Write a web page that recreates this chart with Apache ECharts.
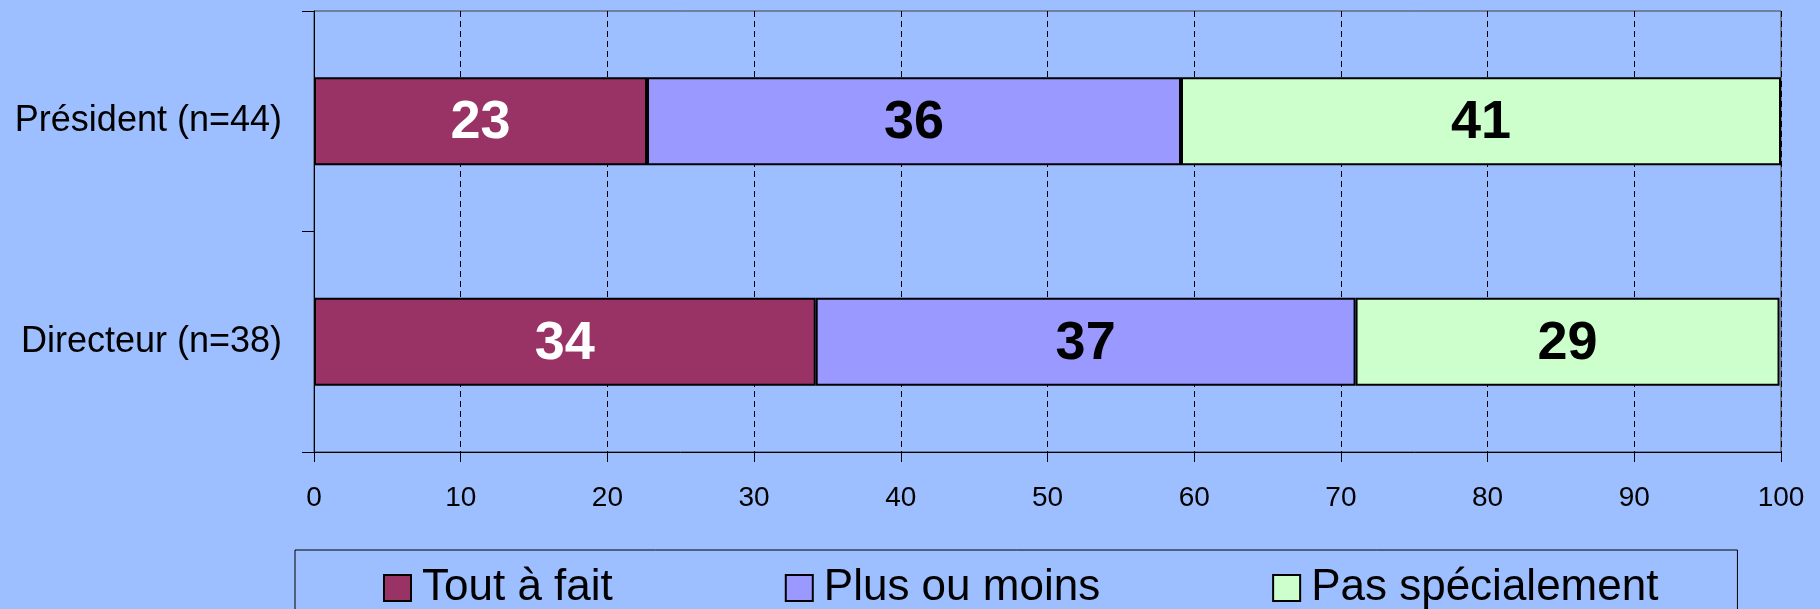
<!DOCTYPE html>
<html>
<head>
    <meta charset="utf-8" />
    <title>Président / Directeur</title>
    <script src="https://cdn.jsdelivr.net/npm/echarts@6/dist/echarts.min.js"></script>
    <style>
        html, body { margin: 0; padding: 0; background: #9DBEFF; }
    </style>
</head>
<body>
<div id="main" style="width:1820px;height:609px;"></div>

<script type="text/javascript">
    // categories (top to bottom) and the three answer shares in %
    var categories = ['Président (n=44)', 'Directeur (n=38)'];
    var seriesNames = ['Tout à fait', 'Plus ou moins', 'Pas spécialement'];
    var toutAFait = [22.7, 34.2];
    var plusOuMoins = [36.4, 36.8];
    var pasSpecialement = [40.9, 28.9];
    var xTicks = [0, 10, 20, 30, 40, 50, 60, 70, 80, 90, 100];

    var colors = ['#993366', '#9999FF', '#CCFFCC'];
    var labelColors = ['#ffffff', '#000000', '#000000'];
    var font = 'Liberation Sans, Arial, sans-serif';

    var myChart = echarts.init(document.getElementById('main'));

    function makeSeries(idx, data) {
        return {
            name: seriesNames[idx],
            type: 'bar',
            stack: 'total',
            barWidth: 88,
            data: data,
            itemStyle: {
                color: colors[idx],
                borderColor: '#000',
                borderWidth: 2
            },
            label: {
                show: true,
                position: 'inside',
                offset: [0, 2],
                color: labelColors[idx],
                fontFamily: font,
                fontWeight: 'bold',
                fontSize: 54,
                formatter: function (p) {
                    return Math.round(p.value);
                }
            },
            emphasis: { disabled: true }
        };
    }

    var option = {
        backgroundColor: '#9DBEFF',
        animation: false,
        textStyle: { fontFamily: font },
        grid: {
            left: 314,
            right: 39,
            top: 11,
            bottom: 157,
            show: true,
            borderColor: '#404040',
            borderWidth: 1
        },
        legend: {
            data: seriesNames,
            left: 295,
            top: 550,
            padding: [16, 79, 40, 88],
            borderColor: '#000',
            borderWidth: 1,
            itemGap: 172,
            itemWidth: 27,
            itemHeight: 26,
            icon: 'rect',
            itemStyle: { borderColor: '#000', borderWidth: 2 },
            textStyle: {
                fontSize: 44,
                color: '#000',
                fontFamily: font,
                padding: [0, 0, 0, 6]
            },
            selectedMode: false
        },
        xAxis: {
            type: 'value',
            min: xTicks[0],
            max: xTicks[xTicks.length - 1],
            interval: 10,
            axisLine: { show: true, lineStyle: { color: '#000', width: 1 } },
            axisTick: { show: true, length: 10, lineStyle: { color: '#000' } },
            axisLabel: { fontSize: 28, color: '#000', margin: 32, fontFamily: font },
            splitLine: {
                show: true,
                lineStyle: { color: '#000', width: 1, type: [6, 4] }
            }
        },
        yAxis: {
            type: 'category',
            data: categories,
            inverse: true,
            axisLine: { show: true, lineStyle: { color: '#000', width: 1 } },
            axisTick: { show: true, length: 12, lineStyle: { color: '#000' } },
            axisLabel: { fontSize: 36, color: '#000', margin: 32, fontFamily: font },
            splitLine: { show: false }
        },
        series: [
            makeSeries(0, toutAFait),
            makeSeries(1, plusOuMoins),
            makeSeries(2, pasSpecialement)
        ]
    };

    myChart.setOption(option);
</script>
</body>
</html>
